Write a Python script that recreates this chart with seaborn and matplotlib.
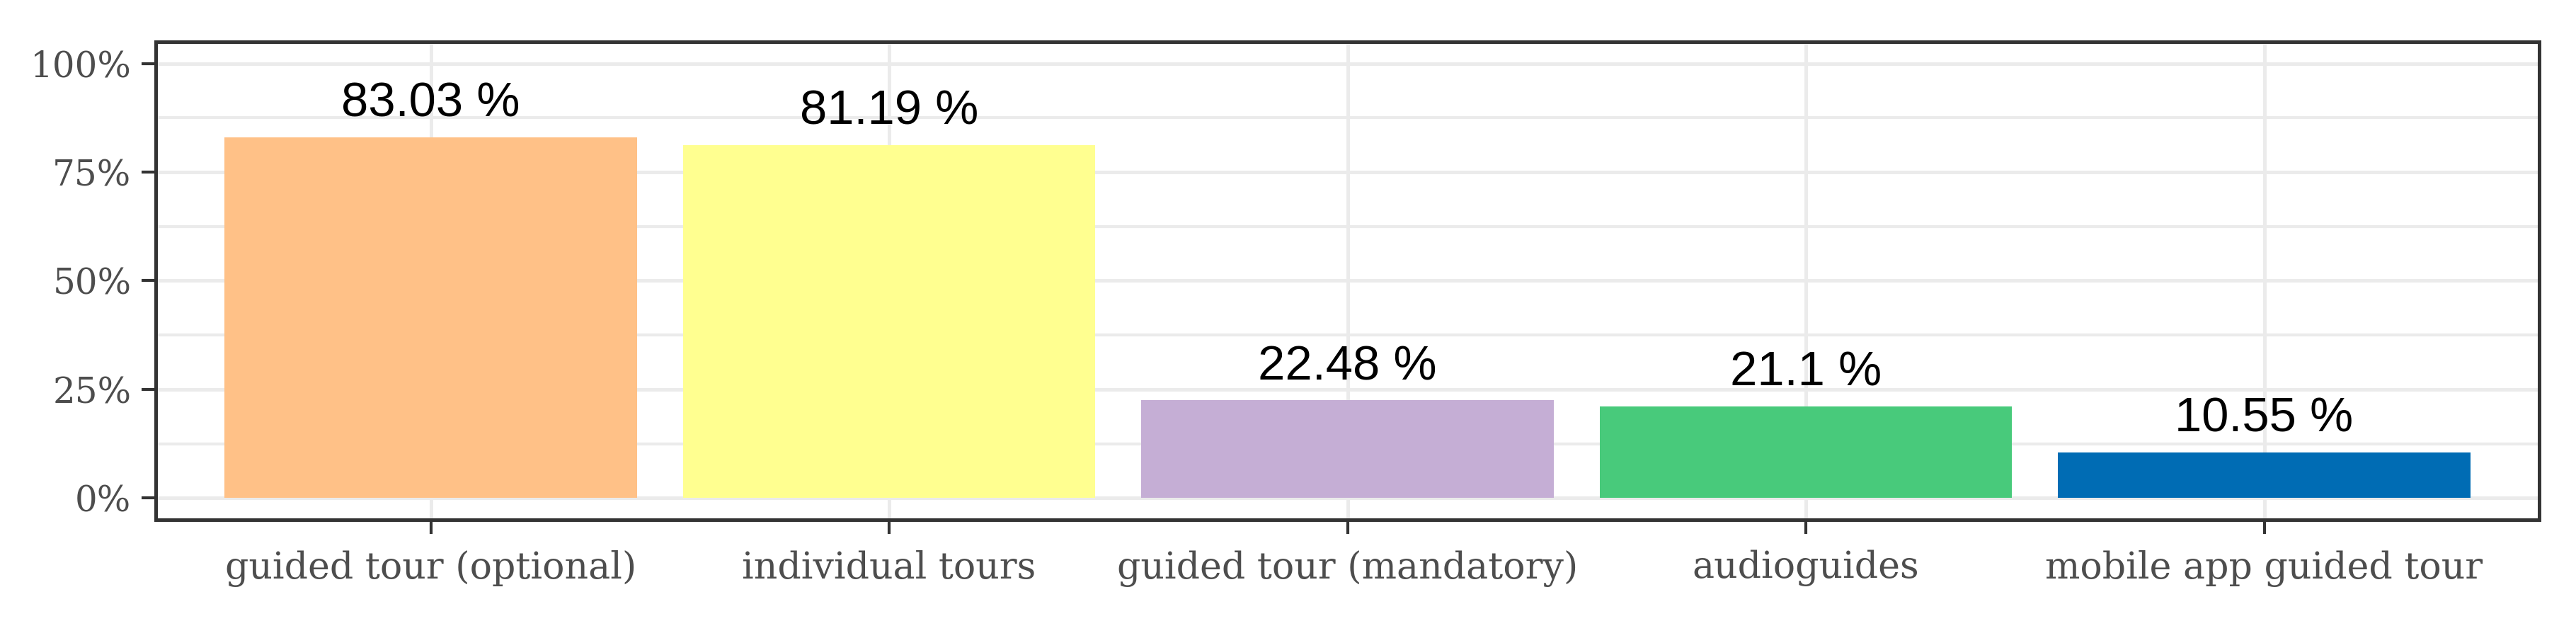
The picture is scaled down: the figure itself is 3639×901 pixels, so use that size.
import matplotlib
matplotlib.use("Agg")
import matplotlib.pyplot as plt
import seaborn as sns
import pandas as pd
from matplotlib.ticker import MultipleLocator, FuncFormatter

categories = ["guided tour (optional)", "individual tours", "guided tour (mandatory)",
              "audioguides", "mobile app guided tour"]
values = [83.03, 81.19, 22.48, 21.1, 10.55]
labels = ["83.03 %", "81.19 %", "22.48 %", "21.1 %", "10.55 %"]
colors = ["#FFC187", "#FFFF90", "#C5AED5", "#48CA7B", "#006CB4"]
yticks = [0, 25, 50, 75, 100]

df = pd.DataFrame({"cat": categories, "val": values})

sns.set_theme(style="white")
plt.rcParams["font.family"] = ["DejaVu Serif"]

fig = plt.figure(figsize=(3639 / 300, 901 / 300), dpi=300)
ax = fig.add_axes([220 / 3639, 1 - 734 / 901, (3587 - 220) / 3639, (734 - 59) / 901])

sns.barplot(data=df, x="cat", y="val", hue="cat", palette=colors, width=0.9,
            legend=False, ax=ax, saturation=1, zorder=3, linewidth=0)

ax.set_xlim(-0.6, len(categories) - 0.4)
ax.set_ylim(-5, 105)
ax.set_yticks(yticks)
ax.yaxis.set_minor_locator(MultipleLocator(12.5))
ax.yaxis.set_major_formatter(FuncFormatter(lambda v, p: f"{v:.0f}%"))

ax.grid(True, which="major", axis="both", color="#EBEBEB", linewidth=1.2, zorder=0)
ax.grid(True, which="minor", axis="y", color="#EBEBEB", linewidth=1.0, zorder=0)
ax.set_axisbelow(True)

for s in ax.spines.values():
    s.set_visible(True)
    s.set_color("#333333")
    s.set_linewidth(1.2)

ax.tick_params(axis="both", which="major", length=4.8, width=1.0, color="#333333",
               labelcolor="#4D4D4D", labelsize=12.5, left=True, bottom=True)
ax.tick_params(axis="x", which="major", pad=5.5)
ax.tick_params(axis="y", which="major", pad=3.5, labelsize=12)
ax.tick_params(axis="y", which="minor", length=0)
ax.set_xlabel("")
ax.set_ylabel("")

for i, (v, t) in enumerate(zip(values, labels)):
    ax.annotate(t, xy=(i, v), xytext=(0, 7), textcoords="offset points",
                ha="center", va="baseline", fontsize=16.5, color="black",
                family=["Liberation Sans", "DejaVu Sans"], zorder=5)

fig.savefig("out.png", dpi=300)
